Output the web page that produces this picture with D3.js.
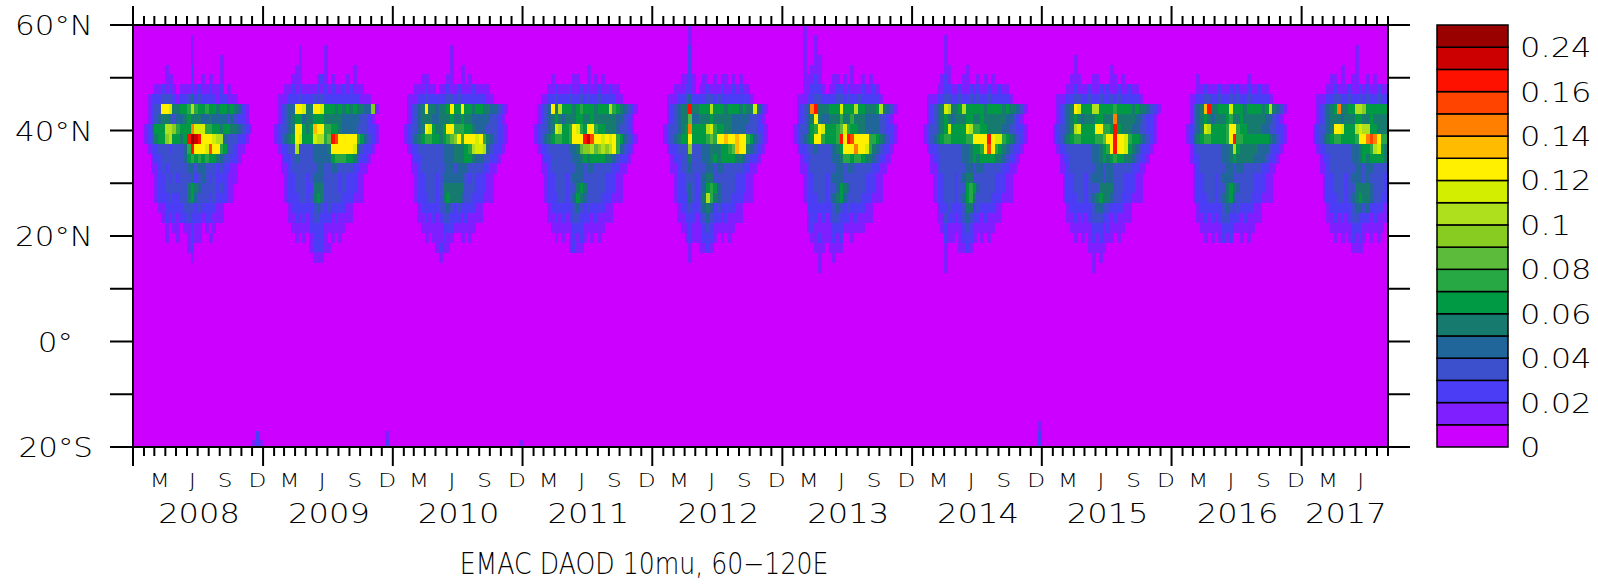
<!DOCTYPE html>
<html>
<head>
<meta charset="utf-8">
<script src="https://cdn.jsdelivr.net/npm/d3@7"></script>
<style>
  body { margin: 0; background: #fff; }
  svg { display: block; }
  text { font-family: "DejaVu Sans", sans-serif; font-weight: 200; fill: #000; }
</style>
</head>
<body>
<svg id="chart"></svg>
<script>
/* globals d3 */

const width = 1598;
const height = 587;

// colour levels (lower bounds of the boxes above the first one)
const levels = [0.01, 0.02, 0.03, 0.04, 0.05, 0.06, 0.07, 0.08, 0.09, 0.1,
                0.11, 0.12, 0.13, 0.14, 0.15, 0.16, 0.2, 0.24];
const colors = ["#cc00ff", "#7f1fff", "#4b3df5", "#3c4fcc", "#21669a", "#177a6e",
                "#009944", "#28a844", "#5cbb3a", "#88cc22", "#aee01e", "#d4ee00",
                "#fff000", "#ffbb00", "#ff8000", "#ff4400", "#ff1100", "#cc0000", "#990000"];
const barLabels = ["0", "0.02", "0.04", "0.06", "0.08", "0.1", "0.12", "0.14", "0.16", "0.24"];
const barLabelBox = [0, 2, 4, 6, 8, 10, 12, 14, 16, 18];

const latTicks = [60, 50, 40, 30, 20, 10, 0, -10, -20];
const latLabels = [[60, "60°N"], [40, "40°N"], [20, "20°N"], [0, "0°"], [-20, "20°S"]];
const monthLetters = [[2, "M"], [5, "J"], [8, "S"], [11, "D"]];
const years = [2008, 2009, 2010, 2011, 2012, 2013, 2014, 2015, 2016, 2017];
const title = "EMAC DAOD 10mu, 60\u2212120E";

// grid: rows of 1.875° from 60N downwards, columns are dekads (3 per month).
// each char is the colour level index (0-9, a-i), groups of 6 = two months
const rowStep = 1.875;

const aod2008 = [
  "000000 000000 000000 000000 000000 000000",
  "000000 000000 000010 000000 000000 000000",
  "000000 000000 000010 000000 000000 000000",
  "000000 000000 000010 000000 100000 000000",
  "000000 000100 000020 000000 100000 000000",
  "000000 000110 000020 010100 100000 000000",
  "000000 112121 011121 211211 201000 000000",
  "000012 223332 122342 322221 221110 000000",
  "000012 33ccb5 5667a7 667665 665654 210000",
  "000012 345543 445655 544544 443432 210000",
  "000123 666aa9 7666eb bb7766 566554 321000",
  "000123 5669a6 656gih gcccba a43332 210000",
  "000012 233323 3347gc ccbfcc 763321 100000",
  "000001 223333 334676 767665 433221 000000",
  "000001 123233 333443 443332 322110 000000",
  "000000 122323 233342 343232 221110 000000",
  "000000 122333 333565 433332 321100 000000",
  "000000 122232 233564 333232 221100 000000",
  "000000 011222 223332 322221 100000 000000",
  "000000 001212 122322 212211 100000 000000",
  "000000 000101 101121 101010 000000 000000",
  "000000 000100 100121 100100 000000 000000",
  "000000 000000 000120 000000 000000 000000",
  "000000 000000 000010 000000 000000 000000"
];

const aod2009 = [
  "000000 000000 000000 000000 000000 000000",
  "000000 000000 000000 000000 000000 000000",
  "000000 000010 000001 000000 000000 000000",
  "000000 000010 000001 000000 000000 000000",
  "000000 000110 000001 000000 010000 000000",
  "000000 001110 000121 010001 010000 000000",
  "000000 112121 111212 121121 211100 000000",
  "000011 122232 223232 222222 222111 000000",
  "000012 344ccb 55ccb6 665656 565544 910000",
  "000012 345664 556665 555544 444332 100000",
  "000123 345cc6 56dcc7 766544 443332 210000",
  "000123 456cb6 66baa7 8gfccc cc7643 210000",
  "000012 233a33 334444 5ccccc cb4322 100000",
  "000001 223433 334444 467776 653221 000000",
  "000001 123333 333443 344333 322110 000000",
  "000000 122333 234443 333232 221100 000000",
  "000000 122333 225553 333232 221100 000000",
  "000000 122233 235653 333322 211100 000000",
  "000000 012222 223432 322221 100000 000000",
  "000000 011212 123322 212111 100000 000000",
  "000000 001111 122221 111110 000000 000000",
  "000000 000101 012221 010100 000000 000000",
  "000000 000000 012221 100000 000000 000000",
  "000000 000000 001110 000000 000000 000000"
];

const aod2010 = [
  "000000 000000 000000 000000 000000 000000",
  "000000 000000 000000 000000 000000 000000",
  "000000 000000 000010 000000 000000 000000",
  "000000 000000 000010 000000 000000 000000",
  "000000 000000 000010 010000 000000 000000",
  "000000 001100 000110 010100 000000 000000",
  "000000 111211 011211 211121 111000 000000",
  "000011 122322 222332 322222 221100 000000",
  "000012 345c55 4556c6 6c6656 655443 210000",
  "000012 345554 455565 565544 444332 100000",
  "000123 345cb6 556cc7 776654 443332 210000",
  "000123 456776 656789 c7cccb c75432 210000",
  "000012 233333 334445 5567ab ba4322 100000",
  "000001 223333 334445 556654 433221 000000",
  "000001 123333 333443 444333 322110 000000",
  "000000 122333 234444 443232 221100 000000",
  "000000 122333 235555 553332 221100 000000",
  "000000 122233 235655 543322 211100 000000",
  "000000 012222 233432 322221 100000 000000",
  "000000 011212 123322 212111 100000 000000",
  "000000 001111 112221 111110 000000 000000",
  "000000 000101 112110 010100 000000 000000",
  "000000 000000 121100 000000 000000 000000",
  "000000 000000 010000 000000 000000 000000"
];

const aod2011 = [
  "000000 000000 000000 000000 000000 000000",
  "000000 000000 000000 000000 000000 000000",
  "000000 000000 000000 000000 000000 000000",
  "000000 000000 000000 000000 000000 000000",
  "000000 000000 000000 100000 000000 000000",
  "000000 001000 001100 101010 000000 000000",
  "000000 011211 121121 211211 211000 000000",
  "000001 122322 232232 322322 221100 000000",
  "000012 34c5a6 665676 665666 a76543 210000",
  "000012 345654 555665 565555 554432 100000",
  "000123 345ba6 67cb76 cc7665 554332 100000",
  "000123 456776 67cccg hfccbc bc7643 210000",
  "000012 233333 344589 9a89a9 ac7432 100000",
  "000001 223333 334456 566665 543221 000000",
  "000001 123333 333443 443333 322110 000000",
  "000000 122333 234443 333332 221100 000000",
  "000000 122333 233565 333332 221100 000000",
  "000000 122233 234654 333322 211100 000000",
  "000000 012222 223432 322221 100000 000000",
  "000000 011212 123322 212111 100000 000000",
  "000000 001111 112221 111110 000000 000000",
  "000000 000101 012121 010100 000000 000000",
  "000000 000000 012110 000000 000000 000000"
];

const aod2012 = [
  "000000 000010 000000 000000 000000 000000",
  "000000 000010 000000 000000 000000 000000",
  "000000 000020 000000 000000 000000 000000",
  "000000 000020 000000 000000 000000 000000",
  "000000 000020 000000 000000 000000 000000",
  "000000 001121 001001 011010 100000 000000",
  "000000 111221 011211 121121 211000 000000",
  "000011 122342 222332 322222 222100 000000",
  "000012 3455g5 5666a6 665666 5655b4 210000",
  "000012 345584 455565 555544 444332 100000",
  "000123 3456e6 666ab7 665544 443332 210000",
  "000123 4566c6 666787 ccdccd cc7643 210000",
  "000012 233393 334455 56678d cc5432 100000",
  "000001 223353 334456 566665 543221 000000",
  "000001 123343 333443 443333 322110 000000",
  "000000 122333 234553 333332 221100 000000",
  "000000 122343 234676 433332 221100 000000",
  "000000 122243 235a75 433322 211100 000000",
  "000000 012232 234542 322221 100000 000000",
  "000000 011222 123432 212111 100000 000000",
  "000000 001121 112321 111110 000000 000000",
  "000000 000121 112221 010100 000000 000000",
  "000000 000010 011210 000000 000000 000000",
  "000000 000010 000000 000000 000000 000000"
];

const aod2013 = [
  "000000 100000 000000 000000 000000 000000",
  "000000 100100 000000 000000 000000 000000",
  "000000 100100 000000 000000 000000 000000",
  "000000 100110 000000 000000 000000 000000",
  "000000 101110 000000 010000 000000 000000",
  "000000 111210 001101 010010 100000 000000",
  "000000 112221 011221 211121 121000 000000",
  "000011 122332 222332 322322 222100 000000",
  "000012 34eg55 5666b6 66a665 556a54 310000",
  "000012 345c54 455575 575554 444332 100000",
  "000123 3467cb 66678b 766554 444332 210000",
  "000123 456cc7 6667gc gfcccc 776543 210000",
  "000012 233433 33456c cceccb 754322 100000",
  "000001 223333 334457 767765 543221 000000",
  "000001 123333 333443 443333 322110 000000",
  "000000 122333 234443 333332 221100 000000",
  "000000 122333 233465 433332 221100 000000",
  "000000 122233 234564 333322 211100 000000",
  "000000 022222 223432 322221 100000 000000",
  "000000 012212 123322 212111 100000 000000",
  "000000 012111 112221 111110 000000 000000",
  "000000 001121 112120 010000 000000 000000",
  "000000 000111 011110 000000 000000 000000",
  "000000 000010 001000 000000 000000 000000",
  "000000 000010 000000 000000 000000 000000"
];

const aod2014 = [
  "000000 000000 000000 000000 000000 000000",
  "000000 000100 000000 000000 000000 000000",
  "000000 000100 000000 000000 000000 000000",
  "000000 000100 000000 000000 000000 000000",
  "000000 000110 000100 000000 000000 000000",
  "000000 001210 001100 101010 000000 000000",
  "000000 011221 121121 211211 211000 000000",
  "000011 122332 232232 322322 222100 000000",
  "000012 345ba5 56a666 665666 656554 310000",
  "000012 345654 555665 565555 554432 100000",
  "000123 3456b6 666ba7 766555 544332 210000",
  "000123 456776 66677c cccgcb b76543 210000",
  "000012 233333 334456 67cfc7 654322 100000",
  "000001 223333 334456 566665 543221 000000",
  "000001 123333 333443 443333 322110 000000",
  "000000 122333 234553 333332 221100 000000",
  "000000 122333 233676 433332 221100 000000",
  "000000 122333 234675 333322 211100 000000",
  "000000 012232 223552 322221 100000 000000",
  "000000 011322 123432 212111 100000 000000",
  "000000 001211 112321 111110 000000 000000",
  "000000 000211 012221 010100 000000 000000",
  "000000 000100 011210 000000 000000 000000",
  "000000 000100 000000 000000 000000 000000",
  "000000 000100 000000 000000 000000 000000"
];

const aod2015 = [
  "000000 000000 000000 000000 000000 000000",
  "000000 000000 000000 000000 000000 000000",
  "000000 000000 000000 000000 000000 000000",
  "000000 000100 000000 000000 000000 000000",
  "000000 000100 000000 010000 000000 000000",
  "000000 001110 001100 011010 000000 000000",
  "000000 011211 121121 211211 211000 000000",
  "000011 122332 232232 232322 222100 000000",
  "000012 345cb6 66aa66 667666 656554 321000",
  "000012 345654 555665 55e555 554432 210000",
  "000123 345ab6 666cc7 76g655 544332 210000",
  "000123 456776 666778 ccgccb 766543 210000",
  "000012 233333 334456 7cgccb 654322 100000",
  "000001 223333 334456 567665 543221 000000",
  "000001 123333 333443 443333 322110 000000",
  "000000 122333 234443 443332 221100 000000",
  "000000 122333 233355 553332 221100 000000",
  "000000 122233 234565 543322 211100 000000",
  "000000 012222 223443 322221 100000 000000",
  "000000 011212 123332 212111 100000 000000",
  "000000 001111 112221 211110 000000 000000",
  "000000 000101 012121 110100 000000 000000",
  "000000 000000 011111 000000 000000 000000",
  "000000 000000 001010 000000 000000 000000",
  "000000 000000 001000 000000 000000 000000"
];

const aod2016 = [
  "000000 000000 000000 000000 000000 000000",
  "000000 000000 000000 000000 000000 000000",
  "000000 000000 000000 000000 000000 000000",
  "000000 000000 000000 000000 000000 000000",
  "000000 000000 000000 000000 000000 000000",
  "000000 010000 000000 000100 000000 000000",
  "000000 011211 121121 211211 211000 000000",
  "000001 122332 232232 322322 222100 000000",
  "000001 345dg5 5666b6 665666 656a54 310000",
  "000001 345654 555675 565555 554432 100000",
  "000012 345ba6 6667cc 766555 544332 210000",
  "000012 456776 6667cg 776666 666543 210000",
  "000001 233333 33445a 655555 444322 100000",
  "000001 223333 334456 555554 443221 000000",
  "000000 123333 333443 443333 322110 000000",
  "000000 122333 234443 333332 221100 000000",
  "000000 122333 233565 433332 221100 000000",
  "000000 122233 234564 333322 211100 000000",
  "000000 012222 223432 322221 100000 000000",
  "000000 011212 123322 212111 100000 000000",
  "000000 001111 112221 111110 000000 000000",
  "000000 000101 012120 010100 000000 000000"
];

const aod2017 = [
  "000000 000000 000000 000000",
  "000000 000000 000000 000000",
  "000000 000000 000100 000000",
  "000000 000000 000100 000000",
  "000000 000001 000100 000000",
  "000000 001101 001100 101000",
  "000000 011211 121121 211211",
  "000011 122332 232232 322322",
  "000012 3456e5 566aa9 666666",
  "000012 345554 555665 565555",
  "000123 345ccb 666aba a66555",
  "000123 456776 6667cc efec77",
  "000012 233333 334456 67ab65",
  "000001 223333 334456 566665",
  "000001 123333 333443 443333",
  "000000 122333 234443 433332",
  "000000 122333 233555 543332",
  "000000 122233 234565 543322",
  "000000 012222 223443 422221",
  "000000 011212 123322 212111",
  "000000 001111 112221 111110",
  "000000 000101 012121 010100",
  "000000 000000 001110 000000"
];

// isolated small values near 20S: [year, dekad, row, level]
const southSpikes = [
  [2008, 33, 42, 1], [2008, 34, 41, 2], [2008, 34, 42, 2], [2008, 35, 42, 1],
  [2009, 34, 41, 1], [2009, 34, 42, 2], [2010, 35, 42, 1],
  [2014, 35, 40, 1], [2014, 35, 41, 2], [2014, 35, 42, 2]
];

const yearGrids = [aod2008, aod2009, aod2010, aod2011, aod2012,
                   aod2013, aod2014, aod2015, aod2016, aod2017];

// layout
const plot = {left: 133, right: 1388, top: 25, bottom: 447};
const bar = {left: 1437, right: 1508};
const stretch = 1.19;   // the original plot font is wider than DejaVu

const timeStart = new Date(Date.UTC(2008, 0, 1));
const timeEnd = new Date(Date.UTC(2017, 8, 1));

const x = d3.scaleUtc([timeStart, timeEnd], [plot.left, plot.right]);
const y = d3.scaleLinear([-20, 60], [plot.bottom, plot.top]);
const color = d3.scaleThreshold(levels, colors);

function dekadDate(yr, d) {
  return new Date(Date.UTC(yr, Math.floor(d / 3), 1 + (d % 3) * 10));
}

function levelValue(k) {
  if (k === 0) return 0;
  if (k >= levels.length) return levels[levels.length - 1] + 0.02;
  return (levels[k - 1] + levels[k]) / 2;
}

// place a text at (px, py) with the horizontal stretch
function label(g, px, py, s) {
  return g.append("text")
      .attr("transform", `translate(${px},${py}) scale(${stretch},1)`)
      .text(s);
}

// build cells
const cells = [];
years.forEach((yr, i) => {
  yearGrids[i].forEach((row, r) => {
    const s = row.replace(/ /g, "");
    for (let d = 0; d < s.length; d++) {
      const k = parseInt(s[d], 19);
      if (k > 0) cells.push({yr, d, r, value: levelValue(k)});
    }
  });
});
southSpikes.forEach(([yr, d, r, k]) => cells.push({yr, d, r, value: levelValue(k)}));

const svg = d3.select("#chart")
    .attr("width", width)
    .attr("height", height)
    .attr("viewBox", [0, 0, width, height]);

svg.append("clipPath").attr("id", "clip")
  .append("rect")
    .attr("x", plot.left).attr("y", plot.top)
    .attr("width", plot.right - plot.left)
    .attr("height", plot.bottom - plot.top);

svg.append("rect")
    .attr("x", plot.left).attr("y", plot.top)
    .attr("width", plot.right - plot.left)
    .attr("height", plot.bottom - plot.top)
    .attr("fill", color(0));

svg.append("g")
    .attr("clip-path", "url(#clip)")
    .attr("shape-rendering", "crispEdges")
  .selectAll("rect")
  .data(cells)
  .join("rect")
    .attr("x", c => x(dekadDate(c.yr, c.d)))
    .attr("width", c => x(dekadDate(c.yr, c.d + 1)) - x(dekadDate(c.yr, c.d)) + 0.3)
    .attr("y", c => y(60 - c.r * rowStep))
    .attr("height", c => y(60 - (c.r + 1) * rowStep) - y(60 - c.r * rowStep) + 0.3)
    .attr("fill", c => color(c.value));

// frame
svg.append("rect")
    .attr("x", plot.left).attr("y", plot.top)
    .attr("width", plot.right - plot.left)
    .attr("height", plot.bottom - plot.top)
    .attr("fill", "none")
    .attr("stroke", "#000")
    .attr("stroke-width", 2);

// time ticks, top and bottom
const months = d3.utcMonth.range(timeStart, d3.utcDay.offset(timeEnd, 1));
const ticks = svg.append("g").attr("stroke", "#000").attr("stroke-width", 2);
months.forEach(m => {
  const len = m.getUTCMonth() === 0 ? 19 : 9;
  const px = x(m);
  ticks.append("line").attr("x1", px).attr("x2", px)
      .attr("y1", plot.top).attr("y2", plot.top - len);
  ticks.append("line").attr("x1", px).attr("x2", px)
      .attr("y1", plot.bottom).attr("y2", plot.bottom + len);
});

// latitude ticks, left and right
latTicks.forEach(v => {
  ticks.append("line").attr("x1", plot.left - 23).attr("x2", plot.left)
      .attr("y1", y(v)).attr("y2", y(v));
  ticks.append("line").attr("x1", plot.right).attr("x2", plot.right + 22)
      .attr("y1", y(v)).attr("y2", y(v));
});

const latG = svg.append("g")
    .attr("font-size", 26)
    .attr("text-anchor", "end");
latLabels.forEach(([v, s]) => label(latG, v === 0 ? 73 : 93, y(v) + 10, s));

// month letters and years
const monthG = svg.append("g")
    .attr("font-size", 19.5)
    .attr("text-anchor", "middle");
const yearG = svg.append("g")
    .attr("font-size", 27)
    .attr("text-anchor", "middle");

years.forEach(yr => {
  monthLetters.forEach(([m, s]) => {
    const mid = new Date(Date.UTC(yr, m, 16));
    if (mid < timeEnd) label(monthG, x(mid), 487, s);
  });
  const a = x(new Date(Date.UTC(yr, 0, 1)));
  const b = Math.min(x(new Date(Date.UTC(yr + 1, 0, 1))), plot.right);
  label(yearG, (a + b) / 2 + 1, 523, yr);
});

svg.append("text")
    .attr("transform", "translate(644,574) scale(0.84,1)")
    .attr("font-size", 30)
    .attr("text-anchor", "middle")
    .text(title);

// colour bar
const by = d3.scaleLinear([0, colors.length], [plot.bottom, plot.top]);
svg.append("g")
  .selectAll("rect")
  .data(colors)
  .join("rect")
    .attr("x", bar.left)
    .attr("width", bar.right - bar.left)
    .attr("y", (c, i) => by(i + 1))
    .attr("height", (c, i) => by(i) - by(i + 1))
    .attr("fill", c => c)
    .attr("stroke", "#000")
    .attr("stroke-width", 1.5);

const barG = svg.append("g").attr("font-size", 27);
barLabels.forEach((s, i) => label(barG, 1520, by(barLabelBox[i]) + 10, s));
</script>
</body>
</html>
